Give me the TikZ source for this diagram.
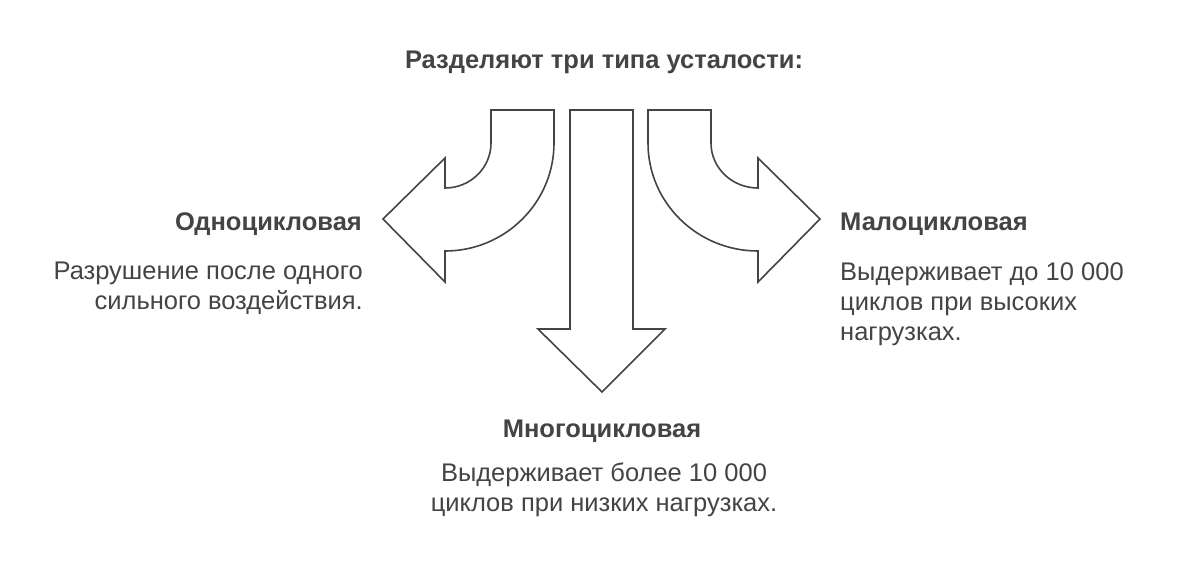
\documentclass[tikz,border=0pt]{standalone}
\usepackage{fontspec}
\setmainfont{Liberation Sans}
\definecolor{ink}{HTML}{444444}
\begin{document}
\begin{tikzpicture}[x=1pt,y=-1pt,
  arr/.style={draw=ink,line width=1.6pt,fill=white,line join=miter},
  hd/.style={font=\fontsize{25.5}{30}\selectfont\bfseries,text=ink,inner sep=0},
  bd/.style={font=\fontsize{25.5}{30}\selectfont,text=ink,inner sep=0}]
\useasboundingbox (0,0) rectangle (1200,574);
% left arrow
\draw[arr] (491,110) -- (554,110) -- (554,143) .. controls (554,202.6) and (505.2,251) .. (445,251) -- (445,282) -- (383,219) -- (445,158) -- (445,188) .. controls (470.4,188) and (491,167.9) .. (491,143) -- cycle;
% right arrow
\draw[arr] (711,110) -- (648,110) -- (648,143) .. controls (648,202.6) and (697.2,251) .. (758,251) -- (758,282) -- (820,219) -- (758,158) -- (758,188) .. controls (732,188) and (711,167.9) .. (711,143) -- cycle;
% middle arrow
\draw[arr] (570,110) -- (633,110) -- (633,329) -- (665,329) -- (602,392) -- (538,329) -- (570,329) -- cycle;
\node[hd] (t) at (604,62) {Разделяют три типа усталости:};
\node[hd,anchor=east] (l) at (362,224) {Одноцикловая};
\node[bd,anchor=north east,align=right] (lt) at (363,262) {Разрушение после одного\\сильного воздействия.};
\node[hd,anchor=west] (r) at (840,224) {Малоцикловая};
\node[bd,anchor=north west,align=left] (rt) at (840,262) {Выдерживает до 10 000\\циклов при высоких\\нагрузках.};
\node[hd] (m) at (602,431) {Многоцикловая};
\node[bd,anchor=north,align=center] (mt) at (604,463) {Выдерживает более 10 000\\циклов при низких нагрузках.};
\end{tikzpicture}
\end{document}
